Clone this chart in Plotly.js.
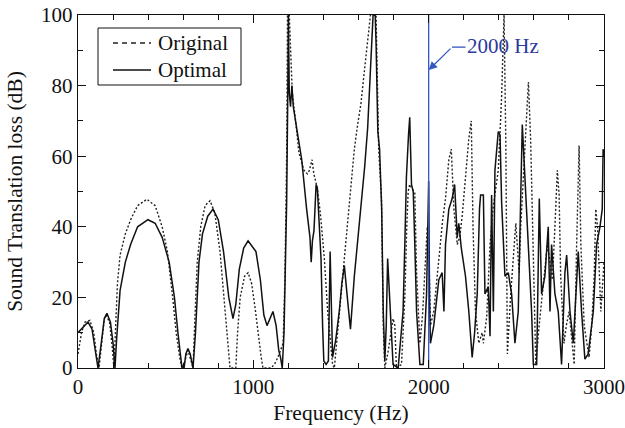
<!DOCTYPE html>
<html>
<head>
<meta charset="utf-8">
<script src="https://cdn.plot.ly/plotly-3.0.1.min.js"></script>
<style>html,body{margin:0;padding:0;background:#fff;}#chart{width:625px;height:428px;}</style>
</head>
<body>
<div id="chart"></div>
<script>
// Original (dashed/dotted) series
const freqOriginal = [0,20,40,68,90,105,120,135,150,160,180,195,205,215,225,240,270,300,340,393,440,480,510,540,560,580,593,610,627,645,656,665,680,700,725,753,780,810,840,860,867,900,910,925,950,970,990,1010,1030,1045,1055,1100,1120,1140,1170,1180,1190,1195,1205,1215,1222,1241,1260,1289,1308,1320,1335,1345,1365,1384,1405,1424,1443,1452,1462,1480,1500,1520,1538,1557,1576,1595,1614,1633,1652,1668,1700,1715,1731,1741,1750,1770,1785,1797,1807,1816,1845,1864,1875,1883,1892,1912,1921,1931,1940,1950,1965,1978,1992,2000,2005,2010,2029,2048,2067,2080,2096,2115,2129,2144,2163,2177,2191,2210,2229,2243,2253,2267,2286,2305,2312,2331,2350,2369,2385,2397,2410,2416,2430,2440,2449,2468,2497,2516,2525,2540,2554,2569,2582,2592,2601,2611,2630,2658,2677,2692,2706,2720,2734,2744,2753,2772,2785,2801,2815,2830,2844,2858,2868,2887,2915,2930,2944,2953,2963,2982,2995,3000];
const lossOriginal = [4,10,13,13.5,10,4,0,8,14,15,13,6,0,12,24,32,38,42,46,47.8,46,40,33,20,10,3,0,2,5,2,0,12,30,40,46,47.4,44,33,16,4,0,0,10,20,26,27,24,17,8,3,0,0,1,3,7,25,60,100,100,85,78,70,61,56,55,56,59,55,51,43,31,16,7,1,0,10,21,32,43,52,62,69,75,84,92,100,100,62,48,12,0,5,10,14,12,0,1,20,40,50,52,50,49.5,27,15,7,15,26,40,36,20,12,16,26,35,42,48,59,62,45,35,37,43,54,65,70,40,16,7,10,7,14.5,35,46,52,56,70,77,100,64,4,21,41,27,40,55,68,81,64,40,16,1,12,25,35,30,25,40,56,49,26,7,12,16,8,1,35,63,35,12,3,12,26,45,40,16,26,30];

// Optimal (solid) series
const freqOptimal = [0,20,57,80,100,114,130,150,165,185,200,211,220,240,270,300,340,399,440,480,520,550,570,593,605,615,627,640,656,670,690,710,740,770,800,830,860,884,900,920,945,970,1000,1015,1040,1060,1078,1095,1112,1130,1145,1155,1165,1175,1182,1190,1197,1200,1205,1212,1220,1228,1250,1276,1304,1323,1330,1337,1346,1358,1365,1377,1386,1395,1402,1415,1428,1438,1445,1452,1470,1490,1505,1519,1538,1554,1576,1595,1614,1635,1652,1671,1683,1695,1700,1710,1720,1732,1741,1750,1758,1766,1772,1780,1788,1797,1826,1840,1854,1864,1873,1885,1892,1902,1912,1921,1931,1950,1969,1988,2000,2005,2010,2029,2045,2058,2077,2087,2096,2115,2134,2148,2163,2172,2186,2210,2229,2248,2262,2277,2290,2296,2312,2321,2340,2350,2359,2369,2378,2397,2407,2416,2435,2454,2473,2492,2511,2530,2534,2549,2568,2587,2597,2616,2631,2644,2663,2682,2692,2701,2720,2739,2758,2777,2787,2806,2825,2844,2853,2872,2891,2910,2939,2958,2977,2990,2995,3000];
const lossOptimal = [10,11,13,11,5,0,6,14,15.5,13,7,0,8,22,30,35,40,42,41,37,30,20,10,0,0,4,5.5,4,0,10,30,38,43,45,42,33,20,14,18,28,34,36,34,33,25,15,12,14,16,12,5,3,0,10,26,47,80,100,78,74,80,74,67,59,45,37,30,36,39,52,51,40,31,12,2,1,2,33,15,3,8,16,24,29,19,11,26,36,45,57,68,87,100,100,92,67,62,45,16,2,12,31,25,16,7,1,0,8,16,35,54,66,71,52,50,35,16,1,1,21,53,20,7,12,20,25,27,16,35,45,48,52,37,41,34,26,16,3,10,21,45,49,49,21,23,9,49,16,56,67,66,47,26,27,21,7,16,64,69,54,35,16,1,1,48,21,26,40,16,35,21,16,1,27,32,16,7,26,33,16,2.5,4,16,35,40,45,62,60];

const seriesNames = ['Original', 'Optimal'];
const markerFreq = [2000];
const markerRange = [0, 100];
const markerLabel = '2000 Hz';

const serif = '"Liberation Serif", "Times New Roman", serif';

// plot-area geometry helpers (pixels -> paper fraction)
const W = 625, H = 428, ML = 78, MR = 21, MT = 15, MB = 60;
const PW = W - ML - MR, PH = H - MT - MB;
const px = v => (v - ML) / PW;
const py = v => (H - MB - v) / PH;

const traces = [
  {x: freqOriginal, y: lossOriginal, name: seriesNames[0], type: 'scatter', mode: 'lines',
   line: {color: '#222', width: 1.4, dash: '2px,2px'}},
  {x: freqOptimal, y: lossOptimal, name: seriesNames[1], type: 'scatter', mode: 'lines',
   line: {color: '#111', width: 1.5}},
  {x: [markerFreq[0], markerFreq[0]], y: markerRange, type: 'scatter', mode: 'lines',
   hoverinfo: 'skip', line: {color: '#3457c0', width: 1.3}}
];

const layout = {
  width: W, height: H,
  margin: {l: ML, r: MR, t: MT, b: MB},
  paper_bgcolor: '#fff', plot_bgcolor: '#fff',
  font: {family: serif, size: 21, color: '#111'},
  showlegend: false,
  xaxis: {range: [0, 3000], tickvals: [0, 1000, 2000, 3000], ticktext: ['0','1000','2000','3000'],
          ticks: 'inside', ticklen: 8, tickcolor: '#111', tickwidth: 1,
          minor: {dtick: 200, ticks: 'inside', ticklen: 5, tickcolor: '#111'},
          showline: true, linecolor: '#111', linewidth: 1.2, mirror: 'ticks',
          showgrid: false, zeroline: false,
          tickfont: {family: serif, size: 21, color: '#111'},
          title: {text: 'Frequency (Hz)', font: {family: serif, size: 21.5, color: '#111'}, standoff: 6}},
  yaxis: {range: [0, 100], tickvals: [0, 20, 40, 60, 80, 100],
          ticks: 'inside', ticklen: 8, tickcolor: '#111', tickwidth: 1,
          minor: {dtick: 10, ticks: 'inside', ticklen: 5, tickcolor: '#111'},
          showline: true, linecolor: '#111', linewidth: 1.2, mirror: 'ticks',
          showgrid: false, zeroline: false,
          tickfont: {family: serif, size: 21, color: '#111'},
          title: {text: 'Sound Translation loss (dB)', font: {family: serif, size: 21.5, color: '#111'}, standoff: 12}},
  shapes: [
    // legend box and samples
    {type: 'rect', xref: 'paper', yref: 'paper', x0: px(98), x1: px(241), y0: py(85), y1: py(28),
     line: {color: '#111', width: 1}, fillcolor: '#fff', layer: 'above'},
    {type: 'line', xref: 'paper', yref: 'paper', x0: px(113), x1: px(151), y0: py(43), y1: py(43),
     line: {color: '#222', width: 1.4, dash: '5px,4px'}, layer: 'above'},
    {type: 'line', xref: 'paper', yref: 'paper', x0: px(113), x1: px(151), y0: py(70), y1: py(70),
     line: {color: '#111', width: 1.5}, layer: 'above'},
    // annotation leader
    {type: 'line', xref: 'x', yref: 'y', x0: 2133, y0: 90.9, x1: 2210, y1: 90.9,
     line: {color: '#3457c0', width: 1.3}}
  ],
  annotations: [
    {x: px(156), y: py(43), xref: 'paper', yref: 'paper', xanchor: 'left', yanchor: 'middle',
     text: seriesNames[0], showarrow: false, font: {family: serif, size: 21, color: '#111'}},
    {x: px(156), y: py(70), xref: 'paper', yref: 'paper', xanchor: 'left', yanchor: 'middle',
     text: seriesNames[1], showarrow: false, font: {family: serif, size: 21, color: '#111'}},
    {x: markerFreq[0], y: 84.4, xref: 'x', yref: 'y', ax: 2133, ay: 90.9, axref: 'x', ayref: 'y',
     text: '', showarrow: true, arrowhead: 2, arrowsize: 1.3, arrowwidth: 1.3, arrowcolor: '#3457c0'},
    {x: 2205, y: 91.2, xref: 'x', yref: 'y', xanchor: 'left', yanchor: 'middle',
     text: markerLabel, showarrow: false, font: {family: serif, size: 21, color: '#2b3a9c'}}
  ]
};

Plotly.newPlot('chart', traces, layout, {displayModeBar: false, staticPlot: true});
</script>
</body>
</html>
